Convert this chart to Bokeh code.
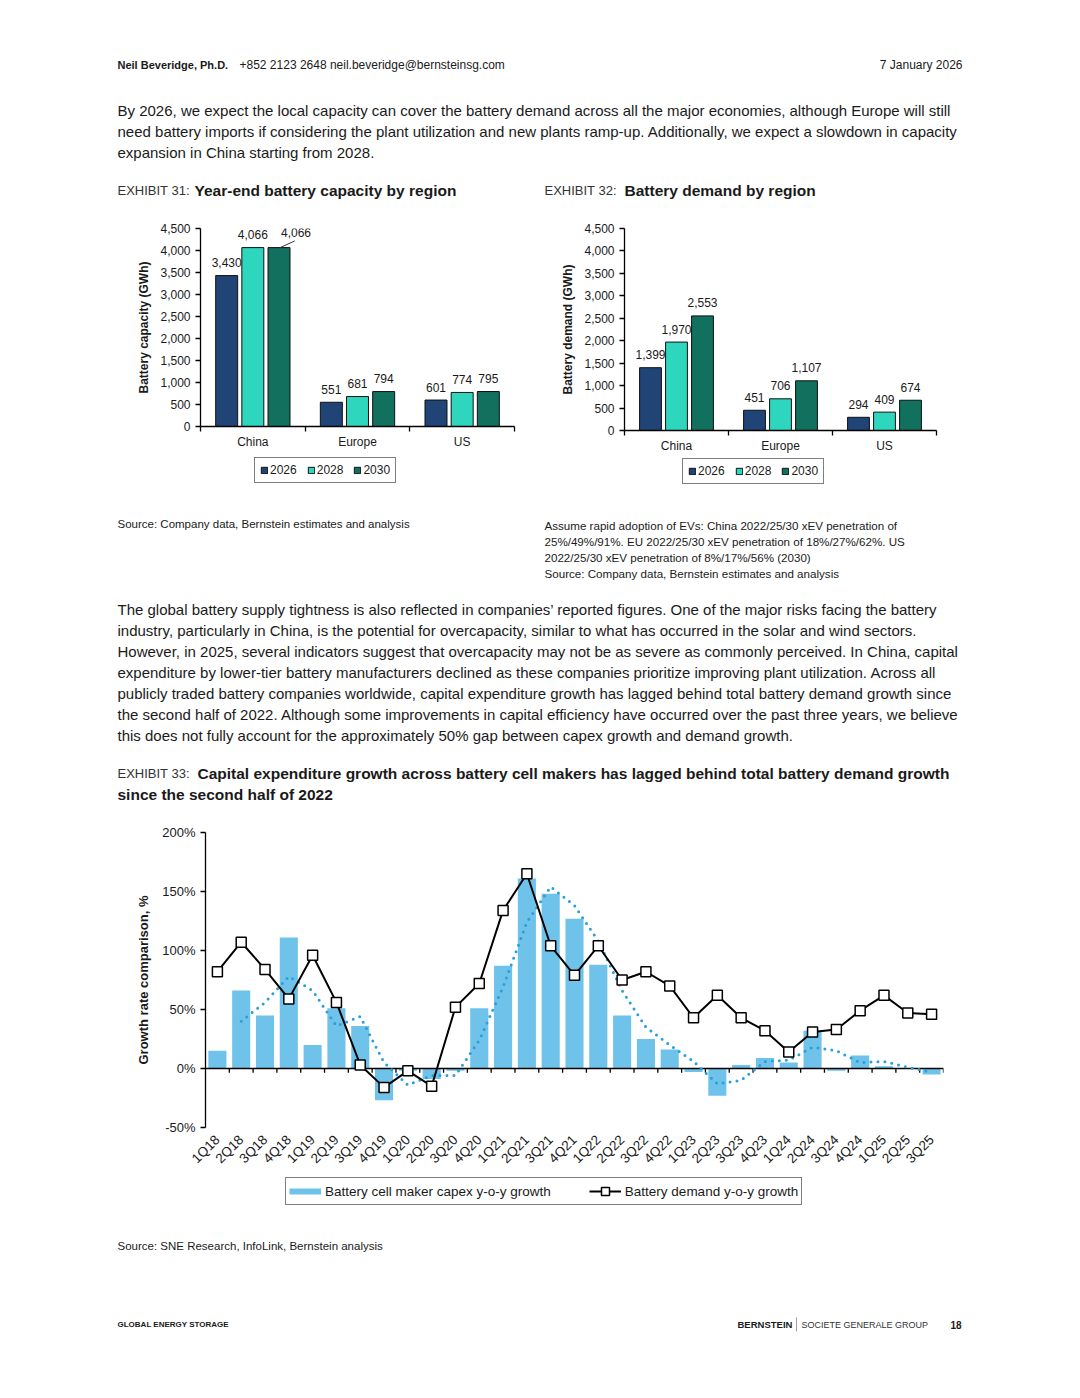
import math
from bokeh.plotting import figure
from bokeh.layouts import column, row
from bokeh.models import (Range1d, FactorRange, FixedTicker, Legend, LegendItem,
                          PrintfTickFormatter, NumeralTickFormatter, ColumnDataSource)
from bokeh.transform import dodge
from bokeh.core.properties import value
from bokeh.embed import file_html
from bokeh.resources import INLINE

FONT = "Liberation Sans"
INK = "#1a1a1a"
NAN = float("nan")

# ---------------- data ----------------
regions = ["China", "Europe", "US"]
year_labels = ["2026", "2028", "2030"]
capacity_2026 = [3430, 551, 601]
capacity_2028 = [4066, 681, 774]
capacity_2030 = [4066, 794, 795]
demand_2026 = [1399, 451, 294]
demand_2028 = [1970, 706, 409]
demand_2030 = [2553, 1107, 674]
gwh_ticks = [0, 500, 1000, 1500, 2000, 2500, 3000, 3500, 4000, 4500]

quarters = ["1Q18", "2Q18", "3Q18", "4Q18", "1Q19", "2Q19", "3Q19", "4Q19",
            "1Q20", "2Q20", "3Q20", "4Q20", "1Q21", "2Q21", "3Q21", "4Q21",
            "1Q22", "2Q22", "3Q22", "4Q22", "1Q23", "2Q23", "3Q23", "4Q23",
            "1Q24", "2Q24", "3Q24", "4Q24", "1Q25", "2Q25", "3Q25"]
capex_growth = [15, 66, 45, 111, 20, 51, 36, -27, -2, -9, -2, 51, 87, 161, 148, 127,
                88, 45, 25, 16, -3, -23, 3, 9, 5, 32, -2, 11, 2, 0, -5]
capex_trend = [NAN, 40, 56, 78, 66, 36, 44, 5, -14, -6, -6, 24, 69, 124, 154, 138,
               108, 66, 35, 20, 6, -13, -10, 6, 7, 18, 15, 5, 6, 1, -3]
demand_growth = [82, 107, 84, 59, 96, 56, 3, -16, -2, -15, 52, 72, 134, 165, 104, 79,
                 104, 75, 82, 70, 43, 62, 43, 32, 14, 31, 33, 49, 62, 47, 46]
pct_ticks = [-50, 0, 50, 100, 150, 200]

BAR_COLORS = ["#1f4475", "#2dd6bd", "#12705f"]
CAPEX_COLOR = "#6fc3ea"
TREND_COLOR = "#2a9fd8"


# ---------------- helpers ----------------
def page_block(w, h):
    p = figure(width=w, height=h, x_range=Range1d(0, w), y_range=Range1d(h, 0),
               x_axis_location=None, y_axis_location=None, output_backend="svg",
               toolbar_location=None, min_border=0)
    p.grid.visible = False
    p.outline_line_color = None
    return p


def put(p, x, y, s, size="15px", bold=False, color=INK, align="left"):
    p.text(x=[x], y=[y], text=[s], text_font=value(FONT), text_font_size=size,
           text_font_style="bold" if bold else "normal", text_color=color,
           text_align=align, text_baseline="middle")


def legend_box(p, items, location, **kw):
    leg = Legend(items=items, location=location, orientation="horizontal", margin=0,
                 border_line_color="black", border_line_width=1.5,
                 label_text_font=FONT, label_text_color=INK,
                 background_fill_color="white", background_fill_alpha=1, **kw)
    p.add_layout(leg)
    return leg


def style_axes(p):
    for ax in p.axis:
        ax.axis_line_color = "black"
        ax.axis_line_width = 1.3
        ax.major_tick_line_color = "black"
        ax.major_tick_line_width = 1.3
        ax.major_label_text_font = FONT
        ax.major_label_text_color = INK
        ax.axis_label_text_font = FONT
        ax.axis_label_text_color = INK


def region_chart(v26, v28, v30, ylabel, borders, special_first_2030=False):
    left, right, top, bottom = borders
    n = len(regions)
    centers = list(range(n))
    p = figure(width=540, height=250, x_range=Range1d(-0.5, n - 0.5), y_range=Range1d(0, 4500),
               output_backend="svg", toolbar_location=None,
               min_border_left=left, min_border_right=right,
               min_border_top=top, min_border_bottom=bottom)
    p.grid.visible = False
    p.outline_line_color = None
    style_axes(p)

    src = ColumnDataSource(dict(x=centers, region=regions, y26=v26, y28=v28, y30=v30))
    for col, off, color in zip(["y26", "y28", "y30"], [-0.25, 0.0, 0.25], BAR_COLORS):
        p.vbar(x=dodge("x", off, range=p.x_range), top=col, width=0.21, source=src,
               fill_color=color, line_color="#111111", line_width=1)

    for vals, off in zip([v26, v28, v30], [-0.25, 0.0, 0.25]):
        idx = list(range(n))
        if special_first_2030 and off == 0.25:
            idx = idx[1:]
        p.text(x=[centers[i] + off for i in idx], y=[vals[i] for i in idx],
               text=[f"{vals[i]:,}" for i in idx], text_font=value(FONT),
               text_font_size="12px", text_color=INK, text_align="center",
               text_baseline="alphabetic", y_offset=-13)
    if special_first_2030:
        xb = centers[0] + 0.25
        p.text(x=[xb], y=[v30[0]], text=[f"{v30[0]:,}"], text_font=value(FONT),
               text_font_size="12px", text_color=INK, text_align="center",
               text_baseline="alphabetic", y_offset=-15, x_offset=17)
        p.segment(x0=[xb + 0.01], y0=[v30[0]], x1=[xb + 0.15], y1=[v30[0] + 150],
                  line_color="#333333", line_width=1)

    p.yaxis.ticker = FixedTicker(ticks=gwh_ticks)
    p.yaxis.formatter = NumeralTickFormatter(format="0,0")
    p.yaxis.axis_label = ylabel
    p.yaxis.axis_label_text_font_style = "bold"
    p.yaxis.axis_label_text_font_size = "12px"
    p.yaxis.axis_label_standoff = 6
    p.yaxis.major_label_text_font_size = "12px"
    p.yaxis.major_tick_out = 5
    p.yaxis.major_tick_in = 0
    p.yaxis.minor_tick_line_color = None
    p.yaxis.major_label_standoff = 5

    p.xaxis.ticker = FixedTicker(ticks=centers, minor_ticks=[c - 0.5 for c in centers] + [n - 0.5])
    p.xaxis.major_label_overrides = {c: r for c, r in zip(centers, regions)}
    p.xaxis.major_tick_line_color = None
    p.xaxis.major_tick_out = 0
    p.xaxis.major_tick_in = 0
    p.xaxis.minor_tick_line_color = "black"
    p.xaxis.minor_tick_line_width = 1.3
    p.xaxis.minor_tick_out = 5
    p.xaxis.minor_tick_in = 0
    p.xaxis.major_label_text_font_size = "12px"
    p.xaxis.major_label_standoff = 3
    return p


def year_legend(location):
    lp = page_block(540, 45)
    # legend keys only (no visible marks): one undefined point each
    keys = [lp.vbar(x=[NAN], top=[NAN], width=1, fill_color=c, line_color="#111111", line_width=1)
            for c in BAR_COLORS]
    legend_box(lp, [LegendItem(label=y, renderers=[k]) for y, k in zip(year_labels, keys)],
               location, glyph_width=8, glyph_height=8, label_standoff=2, spacing=10,
               padding=5, label_text_font_size="12px")
    return lp


# ---------------- section 1: header + intro ----------------
s1 = page_block(1080, 205)
put(s1, 117, 64, "Neil Beveridge, Ph.D.", size="11px", bold=True)
put(s1, 239, 64, "+852 2123 2648 neil.beveridge@bernsteinsg.com", size="12px")
put(s1, 962, 64, "7 January 2026", size="12px", align="right")
intro = ["By 2026, we expect the local capacity can cover the battery demand across all the major economies, although Europe will still",
         "need battery imports if considering the plant utilization and new plants ramp-up. Additionally, we expect a slowdown in capacity",
         "expansion in China starting from 2028."]
for i, line in enumerate(intro):
    put(s1, 117, 110 + 21 * i, line, size="15px")
put(s1, 117, 190, "EXHIBIT 31:", size="13px", color="#333333")
put(s1, 194, 190, "Year-end battery capacity by region", size="15.5px", bold=True)
put(s1, 544, 190, "EXHIBIT 32:", size="13px", color="#333333")
put(s1, 624, 190, "Battery demand by region", size="15.5px", bold=True)

# ---------------- section 2: two bar charts ----------------
c31 = region_chart(capacity_2026, capacity_2028, capacity_2030, "Battery capacity (GWh)",
                   (200, 26, 23, 29), special_first_2030=True)
c32 = region_chart(demand_2026, demand_2028, demand_2030, "Battery demand (GWh)",
                   (84, 144, 23, 25))
l31 = year_legend((254, 17))
l32 = year_legend((142, 16))

# ---------------- section 3: notes + paragraph ----------------
s3 = page_block(1080, 305)
put(s3, 117, 23, "Source: Company data, Bernstein estimates and analysis", size="11.5px")
notes = ["Assume rapid adoption of EVs: China 2022/25/30 xEV penetration of",
         "25%/49%/91%. EU 2022/25/30 xEV penetration of 18%/27%/62%. US",
         "2022/25/30 xEV penetration of 8%/17%/56% (2030)",
         "Source: Company data, Bernstein estimates and analysis"]
for i, line in enumerate(notes):
    put(s3, 544, 25 + 16 * i, line, size="11.6px")
para = ["The global battery supply tightness is also reflected in companies\u2019 reported figures. One of the major risks facing the battery",
        "industry, particularly in China, is the potential for overcapacity, similar to what has occurred in the solar and wind sectors.",
        "However, in 2025, several indicators suggest that overcapacity may not be as severe as commonly perceived. In China, capital",
        "expenditure by lower-tier battery manufacturers declined as these companies prioritize improving plant utilization. Across all",
        "publicly traded battery companies worldwide, capital expenditure growth has lagged behind total battery demand growth since",
        "the second half of 2022. Although some improvements in capital efficiency have occurred over the past three years, we believe",
        "this does not fully account for the approximately 50% gap between capex growth and demand growth."]
for i, line in enumerate(para):
    put(s3, 117, 109 + 21 * i, line, size="15px")
put(s3, 117, 273, "EXHIBIT 33:", size="13px", color="#333333")
put(s3, 197, 273, "Capital expenditure growth across battery cell makers has lagged behind total battery demand growth",
    size="15.5px", bold=True)
put(s3, 117, 294, "since the second half of 2022", size="15.5px", bold=True)

# ---------------- section 4: growth chart ----------------
c33 = figure(width=1080, height=370, x_range=FactorRange(factors=quarters, range_padding=0),
             y_range=Range1d(-50, 200), output_backend="svg", toolbar_location=None,
             min_border_left=205, min_border_right=137, min_border_top=27, min_border_bottom=48)
c33.grid.visible = False
c33.outline_line_color = None
style_axes(c33)
gsrc = ColumnDataSource(dict(q=quarters, capex=capex_growth, trend=capex_trend, demand=demand_growth))
c33.vbar(x="q", top="capex", width=0.76, source=gsrc, fill_color=CAPEX_COLOR, line_color=None)
c33.hspan(y=[0], line_color="black", line_width=1.5)
c33.segment(x0=dodge("q", 0.5, range=c33.x_range), x1=dodge("q", 0.5, range=c33.x_range),
            y0=0, y1=-3.5, source=gsrc, line_color="black", line_width=1.3)
c33.line(x="q", y="trend", source=gsrc, line_color=TREND_COLOR, line_width=3,
         line_dash="0 7", line_cap="round")
c33.line(x="q", y="demand", source=gsrc, line_color="black", line_width=2)
c33.scatter(x="q", y="demand", source=gsrc, marker="square", size=10,
            fill_color="white", line_color="black", line_width=1.5)

c33.yaxis.ticker = FixedTicker(ticks=pct_ticks)
c33.yaxis.formatter = PrintfTickFormatter(format="%d%%")
c33.yaxis.axis_label = "Growth rate comparison, %"
c33.yaxis.axis_label_text_font_style = "bold"
c33.yaxis.axis_label_text_font_size = "13px"
c33.yaxis.axis_label_standoff = 8
c33.yaxis.major_label_text_font_size = "13px"
c33.yaxis.major_tick_out = 5
c33.yaxis.major_tick_in = 0
c33.yaxis.minor_tick_line_color = None
c33.xaxis.axis_line_color = None
c33.xaxis.major_tick_line_color = None
c33.xaxis.major_tick_out = 0
c33.xaxis.major_label_orientation = math.pi / 4
c33.xaxis.major_label_text_font_size = "13.5px"
c33.xaxis.major_label_standoff = 10

l33 = page_block(1080, 40)
# legend keys only (no visible marks): undefined points
k_capex = l33.line(x=[NAN, NAN], y=[NAN, NAN], line_color=CAPEX_COLOR, line_width=6)
k_line = l33.line(x=[NAN, NAN], y=[NAN, NAN], line_color="black", line_width=2)
k_mark = l33.scatter(x=[NAN], y=[NAN], marker="square", size=10, fill_color="white",
                     line_color="black", line_width=1.5)
legend_box(l33, [LegendItem(label="Battery cell maker capex y-o-y growth", renderers=[k_capex]),
                 LegendItem(label="Battery demand y-o-y growth", renderers=[k_line, k_mark])],
           (285, 10), glyph_width=32, glyph_height=20, label_standoff=4, spacing=38,
           padding=3, label_text_font_size="13.5px")

# ---------------- section 5: source + footer ----------------
s5 = page_block(1080, 183)
put(s5, 117, 30, "Source: SNE Research, InfoLink, Bernstein analysis", size="11.5px")
put(s5, 117, 109, "GLOBAL ENERGY STORAGE", size="8px", bold=True)
put(s5, 737, 109, "BERNSTEIN", size="9.5px", bold=True)
s5.segment(x0=[796], y0=[102], x1=[796], y1=[116], line_color="#888888", line_width=0.8)
put(s5, 801, 109, "SOCIETE GENERALE GROUP", size="9px", color="#333333")
put(s5, 961, 109, "18", size="10px", bold=True, align="right")

page = column(row(s1),
              row(column(row(c31), row(l31), spacing=0), column(row(c32), row(l32), spacing=0), spacing=0),
              row(s3), row(c33), row(l33), row(s5), spacing=0)
open("out.html", "w").write(file_html(page, INLINE))
